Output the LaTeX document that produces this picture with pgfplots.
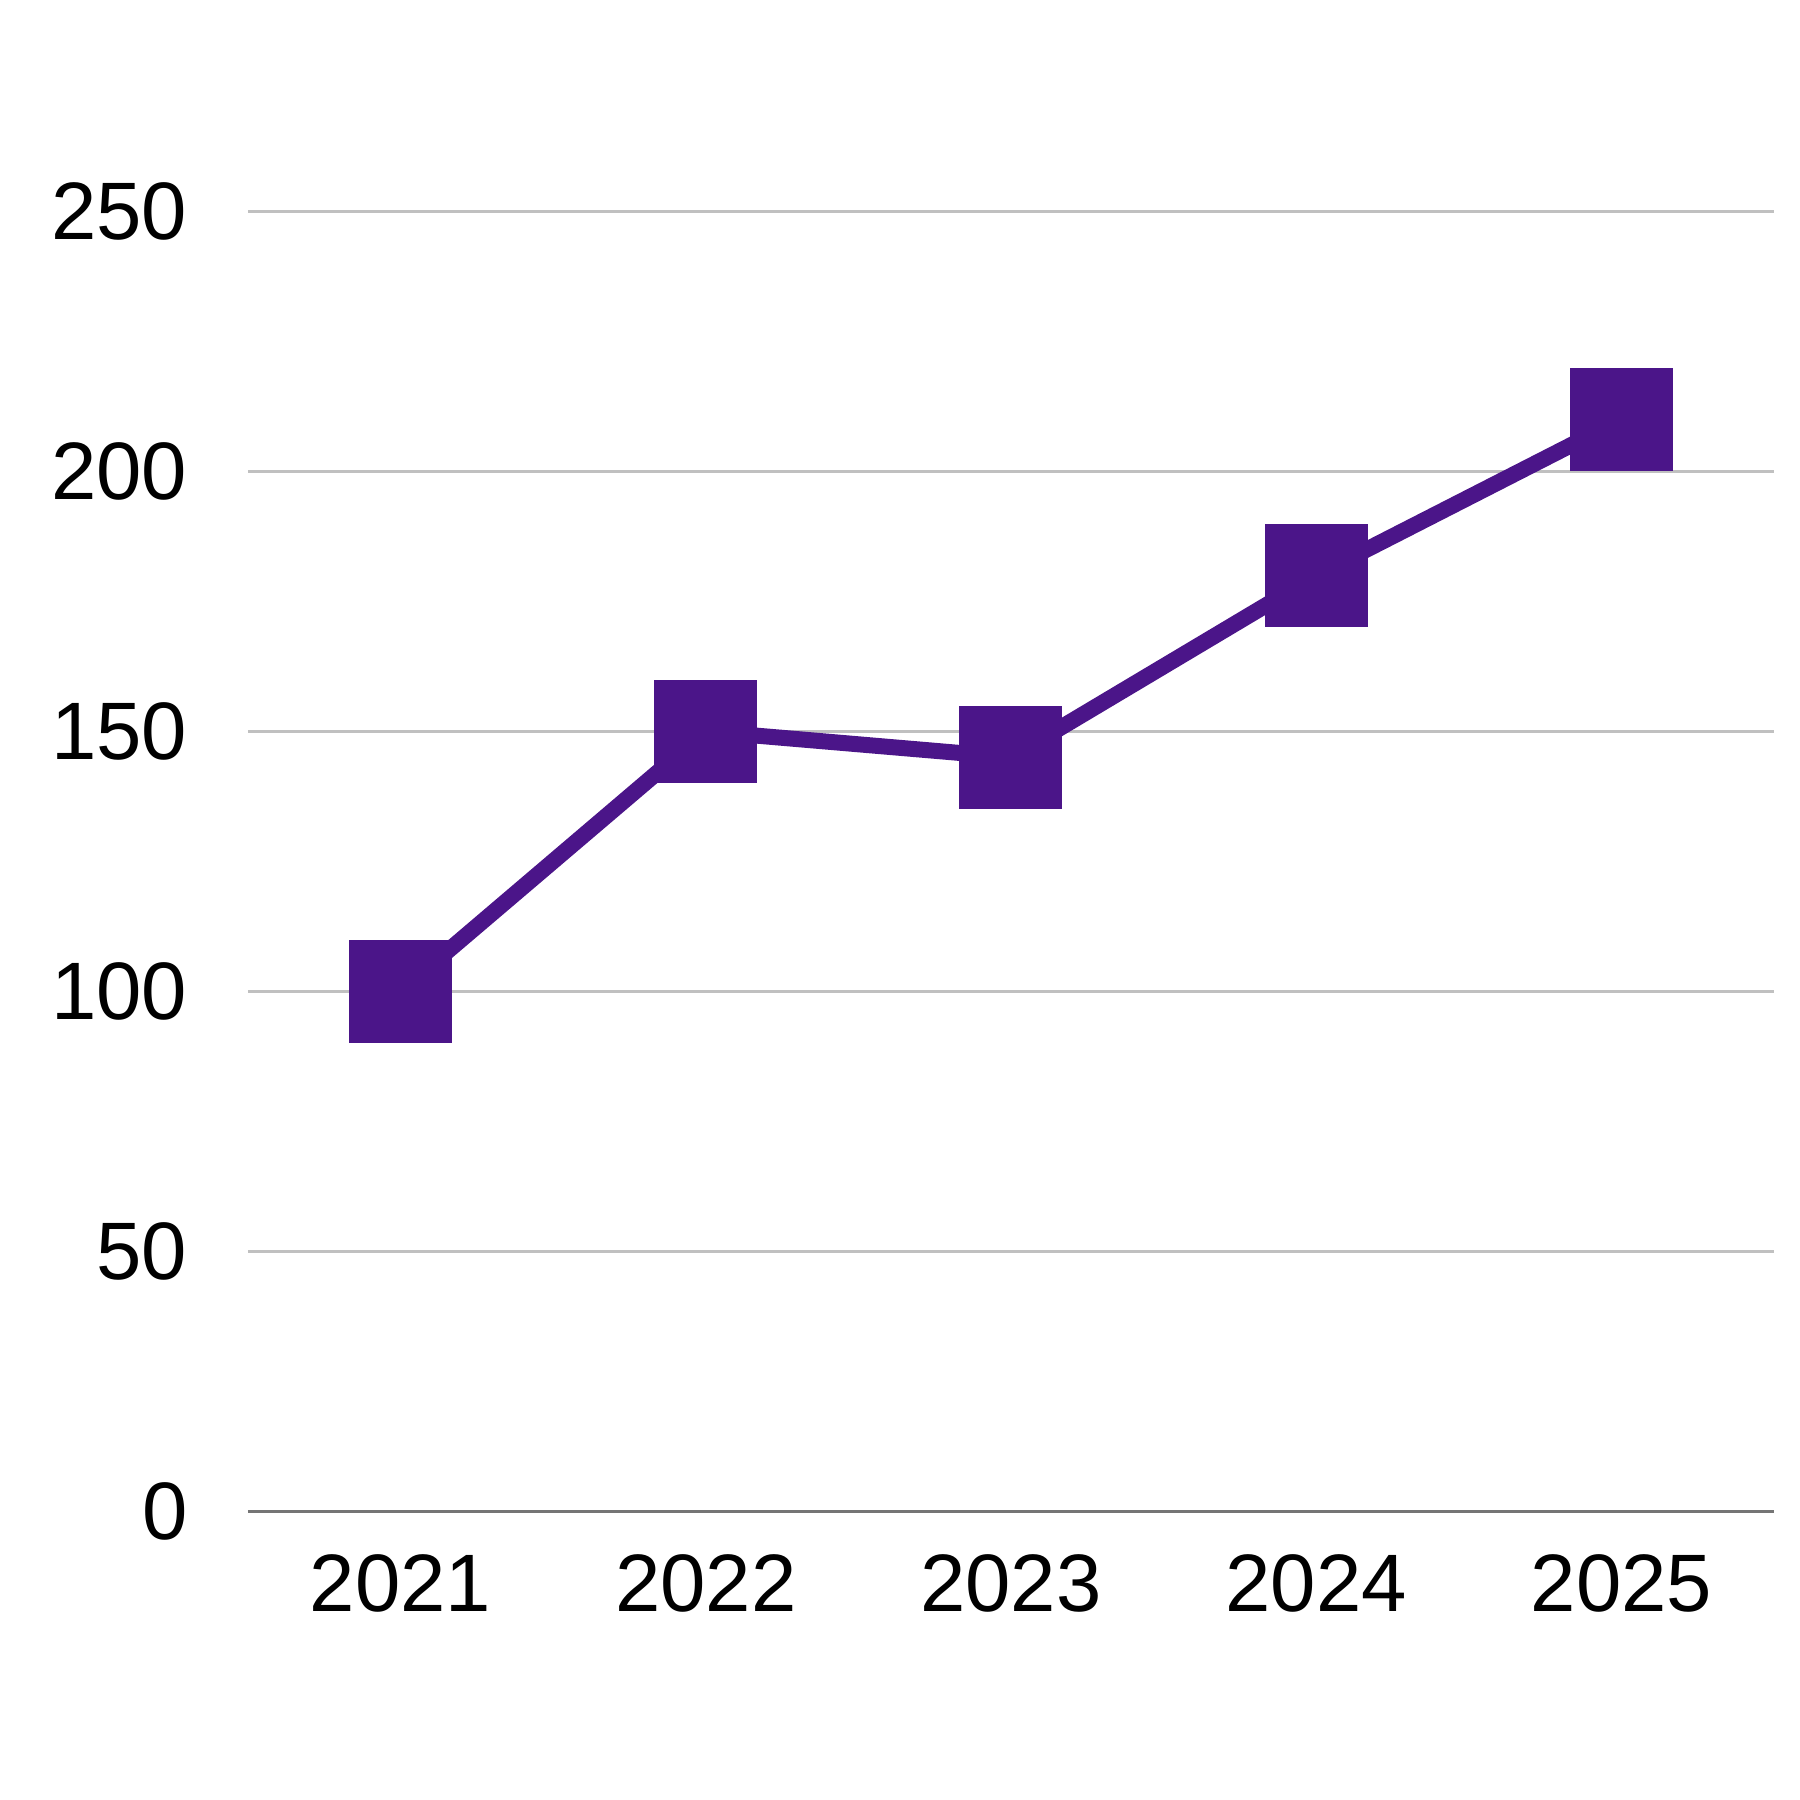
\documentclass[border=0pt]{standalone}
\usepackage{fontspec}
\setmainfont{Liberation Sans}
\usepackage{pgfplots}
\pgfplotsset{compat=1.18}

\definecolor{lineviolet}{HTML}{4B1589}
\definecolor{gridgray}{HTML}{C0C0C0}
\definecolor{axisgray}{HTML}{757575}

\begin{document}
\begin{tikzpicture}
\begin{axis}[
    at={(0,0)}, anchor=south west,
    scale only axis,
    width=305.2pt, height=259.9pt,
    xmin=-0.5, xmax=4.5,
    ymin=0, ymax=250,
    clip=false,
    axis lines*=left,
    y axis line style={draw=none},
    x axis line style={draw=axisgray, line width=0.6pt},
    major tick length=0pt,
    xtick={0,1,2,3,4},
    xticklabels={2021,2022,2023,2024,2025},
    ytick={0,50,100,150,200,250},
    ymajorgrids,
    grid style={gridgray, line width=0.6pt},
    /pgf/number format/assume math mode=true,
    ticklabel style={font=\fontsize{16.3}{19}\selectfont, black},
    x tick label style={yshift=-5.1pt},
    y tick label style={xshift=-8.6pt},
]
\addplot[lineviolet, line width=3.2pt, mark=square*, mark size=8.7pt,
    mark options={solid, fill=lineviolet, draw=none}]
coordinates {
(0,100)
(1,150)
(2,145)
(3,180)
(4,210)
};
\end{axis}
\path[use as bounding box] (-49.6pt,-57.8pt) rectangle (310.4pt,302.2pt);
\end{tikzpicture}
\end{document}
